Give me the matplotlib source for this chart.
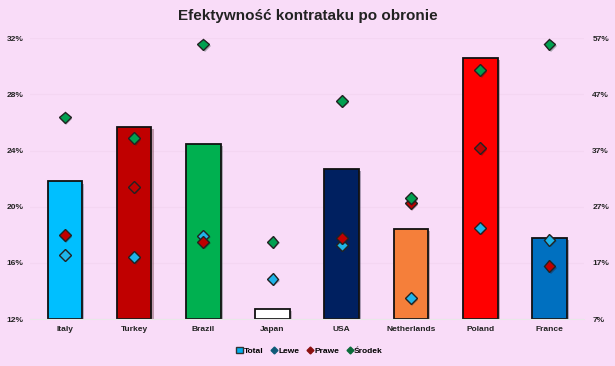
import numpy as np
import matplotlib
matplotlib.use("Agg")
import matplotlib.pyplot as plt
import matplotlib.patheffects as pe
from matplotlib.lines import Line2D
from matplotlib.patches import Patch

plt.rcParams["font.family"] = ["Liberation Sans", "DejaVu Sans"]

countries = ["Italy", "Turkey", "Brazil", "Japan", "USA", "Netherlands", "Poland", "France"]
total = [21.8, 25.7, 24.5, 12.7, 22.7, 18.4, 30.6, 17.8]
lewe = [18.4, 18.0, 21.8, 14.1, 20.2, 10.7, 23.2, 21.1]
prawe = [21.9, 30.5, 20.7, np.nan, 21.4, 27.6, 37.4, 16.4]
srodek = [42.9, 39.2, 55.9, 20.7, 45.8, 28.5, 51.3, 55.9]
bar_colors = ["#00BFFF", "#C00000", "#00B050", "#FFFFFF", "#002060", "#F57F3A", "#FF0000", "#0070C0"]

left_ticks = [12, 16, 20, 24, 28, 32]
right_ticks = [7, 17, 27, 37, 47, 57]

bg = "#F9DCF8"
fig = plt.figure(figsize=(6.15, 3.66), dpi=100, facecolor=bg)
ax = fig.add_axes([0.0494, 0.1284, 0.9002, 0.767], facecolor=bg)
ax2 = ax.twinx()

x = np.arange(len(countries))
shadow = [pe.SimplePatchShadow(offset=(1.5, -1.5), alpha=0.3), pe.Normal()]
ax.bar(x, [t - 12 for t in total], bottom=12, width=0.5, color=bar_colors,
       edgecolor="#111111", linewidth=1.3, path_effects=shadow, zorder=2)

mk = dict(marker="D", markersize=6, linestyle="none", markeredgecolor="#222222",
          markeredgewidth=1.0, zorder=5,
          path_effects=[pe.SimplePatchShadow(offset=(1, -1), alpha=0.3), pe.Normal()])
ax2.plot(x, lewe, color="#1FB4E8", **mk)
ax2.plot(x, prawe, color="#C00000", **mk)
ax2.plot(x, srodek, color="#00A050", **mk)

ax.set_xlim(-0.5, len(countries) - 0.5)
ax.set_ylim(12, 32)
ax2.set_ylim(7, 57)
ax.set_yticks(left_ticks)
ax.set_yticklabels([f"{t}%" for t in left_ticks])
ax2.set_yticks(right_ticks)
ax2.set_yticklabels([f"{t}%" for t in right_ticks])
ax.set_xticks(x)
ax.set_xticklabels(countries)

for a in (ax, ax2):
    for s in a.spines.values():
        s.set_visible(False)
    a.tick_params(length=0, labelsize=6)
    for lbl in a.get_xticklabels() + a.get_yticklabels():
        lbl.set_fontweight("bold")
        lbl.set_color("#222222")
ax.spines["bottom"].set_visible(True)
ax.spines["bottom"].set_color("#E8E8E8")
ax.tick_params(axis="y", pad=5)
ax2.tick_params(axis="y", pad=6)
ax.tick_params(axis="x", pad=5)
ax.grid(axis="y", color="#F4D6F2", linewidth=0.8, zorder=0)
ax.set_axisbelow(True)

fig.suptitle("Efektywność kontrataku po obronie", fontsize=11, fontweight="bold",
             color="#222222", y=0.975)

handles = [
    Patch(facecolor="#00B0F0", edgecolor="#333333", label="Total"),
    Line2D([], [], marker="D", color="#0F5A78", linestyle="none", markersize=3.5, label="Lewe"),
    Line2D([], [], marker="D", color="#8B1010", linestyle="none", markersize=3.5, label="Prawe"),
    Line2D([], [], marker="D", color="#0B6B3A", linestyle="none", markersize=3.5, label="Środek"),
]
leg = fig.legend(handles=handles, loc="center", bbox_to_anchor=(0.503, 0.042), ncol=4,
                 frameon=False, handlelength=0.8, handletextpad=0.1,
                 columnspacing=0.9, prop={"weight": "bold", "size": 6})

fig.savefig("out.png", dpi=100, facecolor=bg)
